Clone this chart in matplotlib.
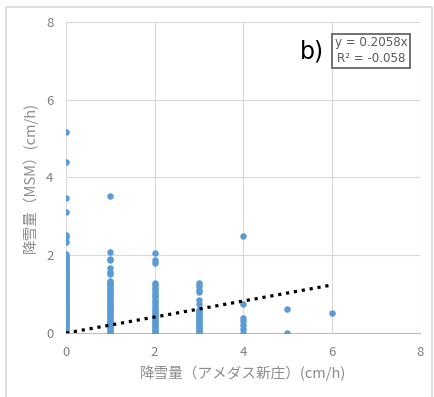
import matplotlib.pyplot as plt
from matplotlib.patches import Rectangle

plt.rcParams['font.family'] = ['Noto Sans CJK JP', 'DejaVu Sans']

# 降雪量 (アメダス新庄) の各値に対する MSM 降雪量
x_vals = [0, 1, 2, 3, 4, 5, 6]
y_cols = [
    [0.0, 0.03, 0.06, 0.1, 0.13, 0.17, 0.2, 0.24, 0.28, 0.31, 0.35, 0.39, 0.42, 0.46,
     0.5, 0.53, 0.57, 0.61, 0.64, 0.68, 0.72, 0.75, 0.79, 0.83, 0.86, 0.9, 0.94,
     0.97, 1.01, 1.05, 1.08, 1.12, 1.16, 1.2, 1.23, 1.27, 1.31, 1.34, 1.38, 1.42,
     1.45, 1.49, 1.53, 1.56, 1.6, 1.64, 1.67, 1.71, 1.75, 1.79, 1.83, 1.87, 1.91,
     1.95, 1.99, 2.03, 2.35, 2.46, 2.52, 3.12, 3.48, 4.39, 5.17],
    [0.0, 0.04, 0.08, 0.12, 0.16, 0.2, 0.24, 0.28, 0.32, 0.36, 0.4, 0.44, 0.48, 0.52,
     0.56, 0.6, 0.64, 0.68, 0.72, 0.76, 0.8, 0.84, 0.88, 0.92, 0.96, 1.0, 1.04,
     1.08, 1.12, 1.16, 1.2, 1.25, 1.3, 1.35, 1.52, 1.58, 1.66, 1.87, 1.9, 2.09, 3.53],
    [0.0, 0.04, 0.08, 0.12, 0.17, 0.22, 0.27, 0.32, 0.37, 0.42, 0.47, 0.52, 0.57,
     0.62, 0.68, 0.74, 0.8, 0.86, 0.92, 0.98, 1.04, 1.1, 1.16, 1.23, 1.3, 1.81,
     1.87, 2.05],
    [0.0, 0.04, 0.08, 0.12, 0.16, 0.2, 0.24, 0.28, 0.32, 0.36, 0.4, 0.44, 0.48, 0.52,
     0.56, 0.6, 0.75, 0.85, 1.05, 1.12, 1.2, 1.28],
    [0.0, 0.1, 0.2, 0.3, 0.39, 0.76, 2.49],
    [0.0, 0.61],
    [0.52],
]
slope = 0.2058
eq_text = 'y = 0.2058x'
r2_text = 'R² = -0.058'

fig = plt.figure(figsize=(4.34, 3.97), dpi=100)
fig.patches.append(Rectangle((6 / 434, -0.01), 426 / 434, 0.993,
                             transform=fig.transFigure, fill=False,
                             edgecolor='#d9d9d9', linewidth=1.2))
ax = fig.add_axes([0.152, 0.161, 0.816, 0.784])

for xv, ys in zip(x_vals, y_cols):
    ax.scatter([xv] * len(ys), ys, s=22, color='#5b9bd5', zorder=3, linewidths=0)

ax.plot([0, max(x_vals)], [0, slope * max(x_vals)], linestyle=(0, (1, 1.5)),
        color='black', linewidth=2.3, zorder=4)

ax.set_xlim(0, 8)
ax.set_ylim(0, 8)
ax.set_xticks([0, 2, 4, 6, 8])
ax.set_yticks([0, 2, 4, 6, 8])
ax.grid(True, color='#d9d9d9', linewidth=0.8, zorder=0)
for s in ['top', 'right', 'left']:
    ax.spines[s].set_visible(False)
ax.spines['bottom'].set_color('#bfbfbf')
ax.tick_params(length=0, labelsize=9.5, colors='#7f7f7f', pad=9)
ax.set_xlabel('降雪量（アメダス新庄）(cm/h)', fontsize=10.5, color='#8c8c8c', labelpad=5)
ax.set_ylabel('降雪量（MSM）(cm/h)', fontsize=10.5, color='#8c8c8c', labelpad=6)

ax.text(0.695, 0.904, 'b)', transform=ax.transAxes, fontsize=17, color='black',
        ha='center', va='center', family=['DejaVu Sans'])
ax.text(0.862, 0.907, eq_text + '\n' + r2_text, transform=ax.transAxes,
        fontsize=8.6, color='#595959', ha='center', va='center', linespacing=1.3,
        family=['DejaVu Sans'],
        bbox=dict(boxstyle='square,pad=0.22', facecolor='white', edgecolor='#595959',
                  linewidth=1.2))

fig.savefig('out.png', dpi=100)
